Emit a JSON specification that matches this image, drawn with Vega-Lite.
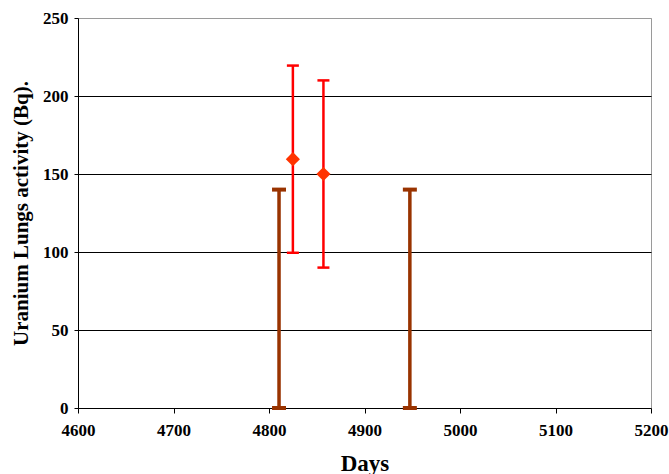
{
  "$schema": "https://vega.github.io/schema/vega-lite/v6.json",
  "autosize": "none",
  "width": 573,
  "height": 390,
  "padding": {"left": 78, "top": 18, "right": 18, "bottom": 66},
  "background": "white",
  "config": {
    "view": {"stroke": "#9a9a9a", "strokeWidth": 1}
  },
  "datasets": {
    "ranges": [
      {"day": 4810.5, "low": 0, "high": 140},
      {"day": 4947.5, "low": 0, "high": 140}
    ],
    "measured": [
      {"day": 4825, "value": 159.5, "low": 99.5, "high": 219.5},
      {"day": 4857, "value": 150, "low": 90, "high": 210}
    ]
  },
  "encoding": {
    "x": {
      "field": "day", "type": "quantitative",
      "scale": {"domain": [4600, 5200], "nice": false, "zero": false},
      "axis": {
        "title": "Days", "titleFontSize": 23, "titlePadding": 14,
        "titleFont": "Liberation Serif", "titleFontWeight": "bold", "titleColor": "black",
        "labelFont": "Liberation Serif", "labelFontWeight": "bold", "labelFontSize": 17, "labelColor": "black",
        "domainColor": "black", "tickColor": "black",
        "values": [4600, 4700, 4800, 4900, 5000, 5100, 5200],
        "format": "d", "grid": false, "tickSize": 5, "labelPadding": 9,
        "labelFlush": false, "labelOverlap": false
      }
    }
  },
  "layer": [
    {
      "data": {"name": "ranges"},
      "mark": {"type": "rule", "color": "#993300", "strokeWidth": 3.5},
      "encoding": {
        "y": {
          "field": "low", "type": "quantitative",
          "scale": {"domain": [0, 250], "nice": false},
          "axis": {
            "title": "Uranium Lungs activity (Bq).", "titleFontSize": 21, "titlePadding": 11,
            "titleFont": "Liberation Serif", "titleFontWeight": "bold", "titleColor": "black",
            "labelFont": "Liberation Serif", "labelFontWeight": "bold", "labelFontSize": 17, "labelColor": "black",
            "domainColor": "black", "tickColor": "black",
            "values": [0, 50, 100, 150, 200, 250],
            "grid": true, "tickSize": 4, "labelPadding": 6, "gridOpacity": 1,
            "labelOverlap": false,
            "gridColor": {"condition": {"test": "datum.value === 250 || datum.value === 0", "value": "#9a9a9a"}, "value": "black"}
          }
        },
        "y2": {"field": "high"}
      }
    },
    {
      "data": {"name": "ranges"},
      "mark": {"type": "tick", "orient": "horizontal", "color": "#993300", "size": 14, "thickness": 4, "opacity": 1},
      "encoding": {"y": {"field": "low", "type": "quantitative"}}
    },
    {
      "data": {"name": "ranges"},
      "mark": {"type": "tick", "orient": "horizontal", "color": "#993300", "size": 14, "thickness": 4, "opacity": 1},
      "encoding": {"y": {"field": "high", "type": "quantitative"}}
    },
    {
      "data": {"name": "measured"},
      "mark": {"type": "rule", "color": "#ff0000", "strokeWidth": 2.5},
      "encoding": {
        "y": {"field": "low", "type": "quantitative"},
        "y2": {"field": "high"}
      }
    },
    {
      "data": {"name": "measured"},
      "mark": {"type": "tick", "orient": "horizontal", "color": "#ff0000", "size": 12, "thickness": 2.5, "opacity": 1},
      "encoding": {"y": {"field": "low", "type": "quantitative"}}
    },
    {
      "data": {"name": "measured"},
      "mark": {"type": "tick", "orient": "horizontal", "color": "#ff0000", "size": 12, "thickness": 2.5, "opacity": 1},
      "encoding": {"y": {"field": "high", "type": "quantitative"}}
    },
    {
      "data": {"name": "measured"},
      "mark": {"type": "point", "shape": "diamond", "filled": true, "color": "#ff3300", "size": 200, "opacity": 1},
      "encoding": {"y": {"field": "value", "type": "quantitative"}}
    }
  ]
}
